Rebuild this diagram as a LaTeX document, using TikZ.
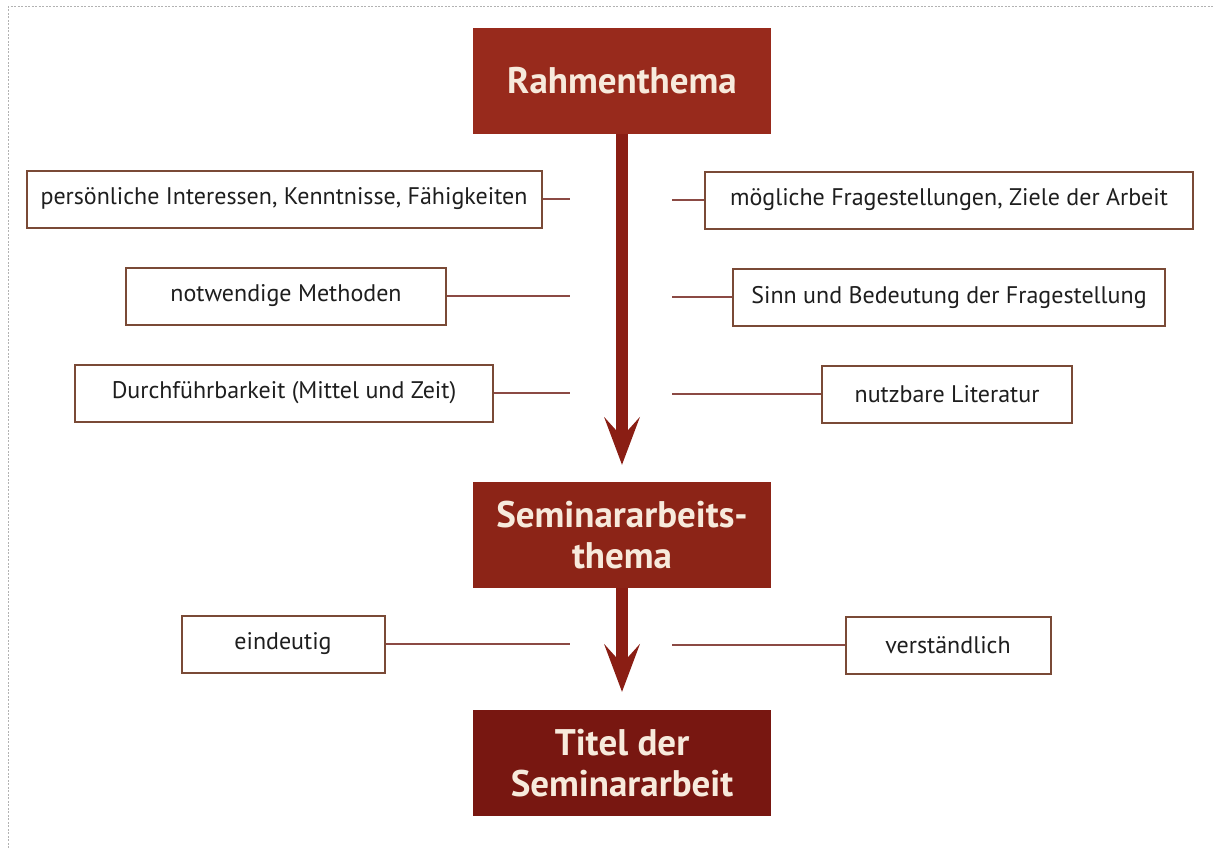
\documentclass[tikz,border=0pt]{standalone}
\usepackage{fontspec}
\setmainfont{PT Sans}
\usetikzlibrary{arrows.meta}
\definecolor{rahmenrot}{HTML}{982A1C}
\definecolor{seminarrot}{HTML}{8C2417}
\definecolor{titelrot}{HTML}{781711}
\definecolor{pfeilrot}{HTML}{8A1E14}
\definecolor{creme}{HTML}{F7EADC}
\definecolor{kastenrand}{HTML}{7A4A36}
\definecolor{astfarbe}{HTML}{8B4A44}
\definecolor{schrift}{HTML}{1E1E1E}

\begin{document}
\begin{tikzpicture}[x=1pt, y=-1pt,
    kopf/.style={fill=#1, text=creme, font=\fontsize{37}{41}\selectfont\bfseries,
        minimum width=298pt, minimum height=106pt, align=center, inner sep=0pt},
    kasten/.style={draw=kastenrand, line width=2pt, fill=white, text=schrift,
        font=\fontsize{24}{27}\selectfont, minimum height=57pt, inner sep=0pt},
    ast/.style={draw=astfarbe, line width=1.8pt},
    pfeil/.style={draw=pfeilrot, line width=12pt,
        -{Stealth[length=48pt, width=36pt, inset=20pt, line width=0pt]}}]
    \useasboundingbox (0,0) rectangle (1214,848);
    \draw[gray!60, line width=1pt, dash pattern=on 2pt off 1.5pt] (8,848) -- (8,7) -- (1214,7);

    % Hauptkette
    \node[kopf=rahmenrot] (rahmen) at (622,81) {Rahmenthema};
    \node[kopf=seminarrot] (seminar) at (622,535) {Seminararbeits-\\thema};
    \node[kopf=titelrot] (titel) at (622,763) {Titel der\\Seminararbeit};
    \draw[pfeil] (rahmen.south) -- ([yshift=17pt]seminar.north);
    \draw[pfeil] (seminar.south) -- ([yshift=18pt]titel.north);

    % Kriterien links und rechts
    \node[kasten, minimum width=515pt] (pers) at (284,199) {persönliche Interessen, Kenntnisse, Fähigkeiten};
    \node[kasten, minimum width=320pt] (meth) at (286,296) {notwendige Methoden};
    \node[kasten, minimum width=418pt] (durch) at (284,393) {Durchführbarkeit (Mittel und Zeit)};
    \node[kasten, minimum width=203pt] (eind) at (283,644) {eindeutig};
    \node[kasten, minimum width=488pt] (frag) at (949,200) {mögliche Fragestellungen, Ziele der Arbeit};
    \node[kasten, minimum width=432pt] (sinn) at (949,297) {Sinn und Bedeutung der Fragestellung};
    \node[kasten, minimum width=250pt] (lit) at (947,394) {nutzbare Literatur};
    \node[kasten, minimum width=205pt] (verst) at (948,645) {verständlich};

    \coordinate (linkskante) at (570,0);
    \coordinate (rechtskante) at (672,0);
    \foreach \k in {pers, meth, durch, eind}
        \draw[ast] (\k.east) -- (\k.east -| linkskante);
    \foreach \k in {frag, sinn, lit, verst}
        \draw[ast] (\k.west) -- (\k.west -| rechtskante);
\end{tikzpicture}
\end{document}
